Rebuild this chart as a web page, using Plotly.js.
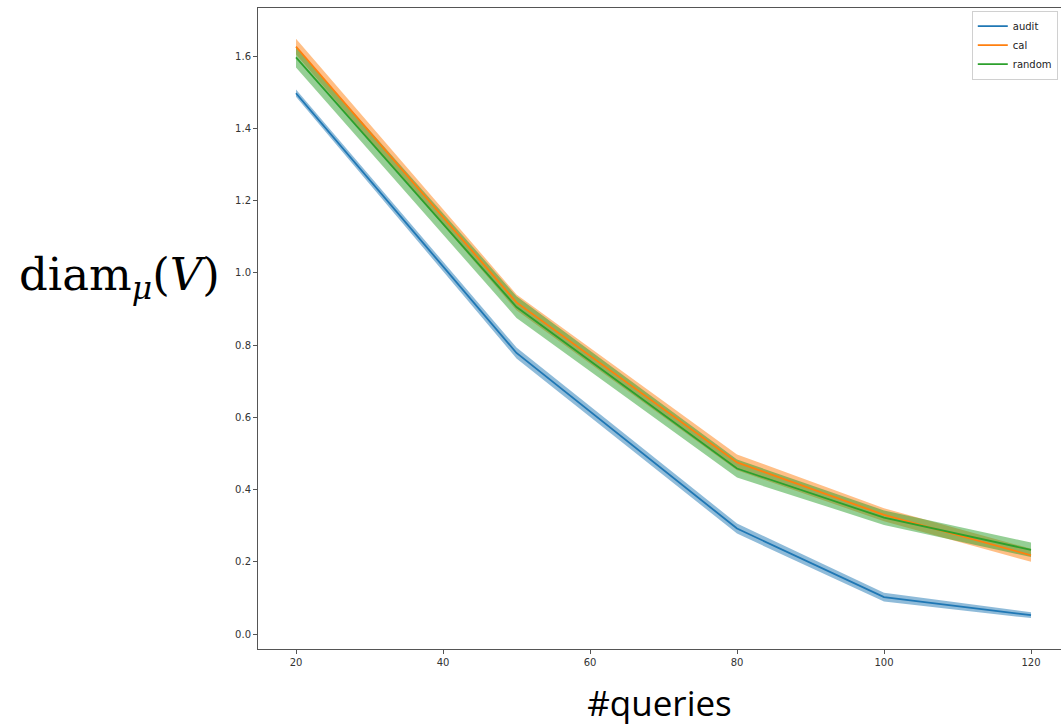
<!DOCTYPE html>
<html>
<head>
<meta charset="utf-8">
<script src="https://cdn.plot.ly/plotly-3.0.1.min.js"></script>
<style>html,body{margin:0;padding:0;background:#fff;}#chart{width:1061px;height:728px;}</style>
</head>
<body>
<div id="chart"></div>
<script>
const queries = [20, 50, 80, 100, 120];
const auditMean = [1.497, 0.778, 0.292, 0.102, 0.052];
const auditErr  = [0.010, 0.015, 0.014, 0.012, 0.008];
const calMean   = [1.626, 0.918, 0.475, 0.330, 0.218];
const calErr    = [0.022, 0.022, 0.022, 0.018, 0.018];
const randomMean = [1.596, 0.905, 0.458, 0.322, 0.233];
const randomErr  = [0.028, 0.030, 0.025, 0.020, 0.020];

const seriesNames = ['audit', 'cal', 'random'];
const colors = ['#1f77b4', '#ff7f0e', '#2ca02c'];
const fills = ['rgba(31,119,180,0.5)', 'rgba(255,127,14,0.5)', 'rgba(44,160,44,0.5)'];
const means = [auditMean, calMean, randomMean];
const errs = [auditErr, calErr, randomErr];

const traces = [];
for (let i = 0; i < 3; i++) {
  const upper = means[i].map((m, k) => m + errs[i][k]);
  const lower = means[i].map((m, k) => m - errs[i][k]);
  traces.push({
    x: queries.concat(queries.slice().reverse()),
    y: upper.concat(lower.slice().reverse()),
    fill: 'toself', fillcolor: fills[i], line: {width: 0, color: 'rgba(0,0,0,0)'},
    mode: 'lines', hoverinfo: 'skip', showlegend: false, type: 'scatter'
  });
}
for (let i = 0; i < 3; i++) {
  traces.push({
    x: queries, y: means[i], mode: 'lines', name: seriesNames[i],
    line: {color: colors[i], width: 1.8}, type: 'scatter'
  });
}

const tickFont = {family: 'DejaVu Sans', size: 10, color: '#333'};
const layout = {
  width: 1061, height: 728,
  margin: {l: 258, r: 0, t: 8, b: 79},
  paper_bgcolor: '#fff', plot_bgcolor: '#fff',
  showlegend: true,
  legend: {
    x: 0.996, xanchor: 'right', y: 0.996, yanchor: 'top',
    bgcolor: 'rgba(255,255,255,0.8)', bordercolor: '#d0d0d0', borderwidth: 1,
    font: {family: 'DejaVu Sans', size: 10, color: '#222'},
    itemwidth: 30, tracegroupgap: 0
  },
  xaxis: {
    range: [14.83, 124.08], tickvals: [20, 40, 60, 80, 100, 120],
    ticks: 'outside', ticklen: 4, tickcolor: '#555', tickfont: tickFont,
    showgrid: false, zeroline: false, showline: true, linecolor: '#555', linewidth: 1, mirror: true,
    title: {text: '#queries', font: {family: 'Open Sans', size: 35, color: '#000'}, standoff: 24}
  },
  yaxis: {
    range: [-0.0415, 1.7329], tickvals: [0, 0.2, 0.4, 0.6, 0.8, 1.0, 1.2, 1.4, 1.6],
    ticktext: ['0.0', '0.2', '0.4', '0.6', '0.8', '1.0', '1.2', '1.4', '1.6'],
    ticks: 'outside', ticklen: 4, tickcolor: '#555', tickfont: tickFont,
    showgrid: false, zeroline: false, showline: true, linecolor: '#555', linewidth: 1, mirror: false
  },
  annotations: [{
    xref: 'paper', yref: 'paper', x: -0.172, y: 0.58, xanchor: 'center', yanchor: 'middle',
    text: 'diam<sub><i>\u03bc</i></sub>(<i>V</i>)', showarrow: false,
    font: {family: 'DejaVu Serif', size: 45, color: '#000'}
  }]
};

Plotly.newPlot('chart', traces, layout, {displayModeBar: false, staticPlot: true});
</script>
</body>
</html>
